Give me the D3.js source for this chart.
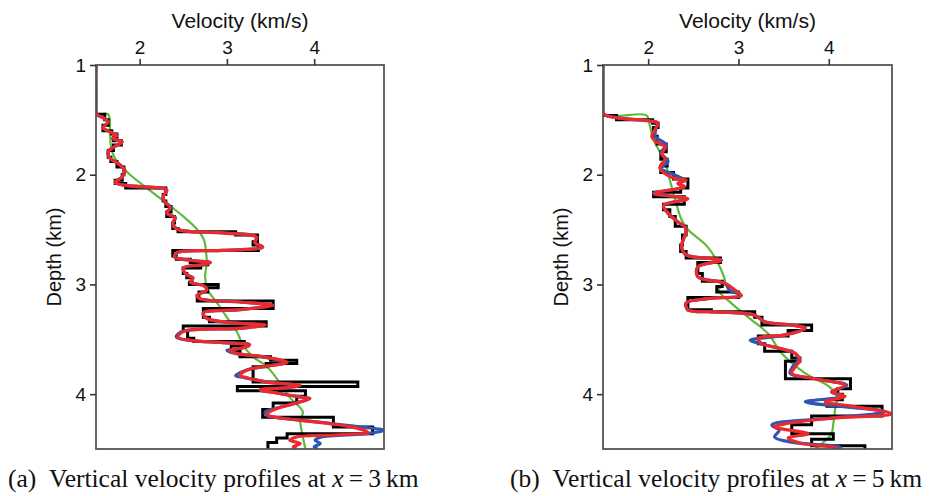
<!DOCTYPE html>
<html>
  <head>
    <meta charset="utf-8">
    <title>Vertical velocity profiles</title>
    <script src="https://cdn.jsdelivr.net/npm/d3@7"></script>
    <style>
      body { margin: 0; background: #fff; }
      .tick text, .axisTitle { font-family: "Liberation Sans", Arial, sans-serif; fill: #111; }
      .caption { font-family: "Liberation Serif", "DejaVu Serif", serif; fill: #111; }
    </style>
  </head>

  <body>
    <svg id="chart" width="932" height="496"></svg>

    <script>
      // ticks
      velocityTicks = [2, 3, 4];
      depthTicks = [1, 2, 3, 4];

      // panel (a), x = 3 km: [depth, velocity]
      // true model (blocky): layer tops
      trueA = [
        [1.00, 1.50], [1.45, 1.60], [1.50, 1.64], [1.55, 1.58], [1.60, 1.68], [1.63, 1.74],
        [1.66, 1.70], [1.69, 1.79], [1.73, 1.70], [1.78, 1.64], [1.84, 1.67], [1.88, 1.74],
        [1.93, 1.82], [2.00, 1.80], [2.05, 1.72], [2.08, 1.84], [2.12, 2.30], [2.18, 2.27],
        [2.24, 2.30], [2.29, 2.36], [2.34, 2.31], [2.38, 2.40], [2.44, 2.38], [2.49, 2.44],
        [2.52, 3.10], [2.55, 3.35], [2.61, 3.30], [2.64, 3.36], [2.69, 2.38], [2.74, 2.42],
        [2.77, 2.58], [2.80, 2.78], [2.82, 2.70], [2.85, 2.50], [2.90, 2.54], [2.94, 2.60],
        [2.98, 2.57], [3.00, 2.90], [3.03, 2.78], [3.07, 2.68], [3.10, 2.66], [3.15, 3.53],
        [3.22, 2.73], [3.30, 2.80], [3.34, 3.45], [3.38, 2.50], [3.42, 2.55], [3.49, 2.62],
        [3.52, 3.20], [3.56, 3.05], [3.61, 3.15], [3.66, 3.50], [3.69, 3.80], [3.72, 3.45],
        [3.75, 3.30], [3.89, 4.50], [3.93, 3.12], [3.97, 3.90], [4.02, 3.80], [4.08, 3.53],
        [4.14, 3.41], [4.21, 4.22], [4.30, 4.67], [4.36, 3.69], [4.40, 3.57], [4.44, 3.47],
        [4.50, 3.47]
      ];
      // initial model (smooth)
      initialA = [
        [1.00, 1.50], [1.44, 1.50], [1.45, 1.64], [1.62, 1.66], [1.78, 1.68], [1.89, 1.75],
        [2.00, 1.89], [2.12, 2.08], [2.26, 2.31], [2.38, 2.50], [2.50, 2.66], [2.60, 2.74],
        [2.70, 2.76], [2.80, 2.77], [2.93, 2.75], [3.05, 2.78], [3.17, 2.89], [3.30, 3.00],
        [3.44, 3.12], [3.55, 3.18], [3.66, 3.30], [3.75, 3.46], [3.90, 3.61], [4.03, 3.72],
        [4.16, 3.87], [4.24, 3.84], [4.35, 3.86], [4.50, 3.90]
      ];
      // inverted model, first result
      blueA = [
        [1.00, 1.50], [1.44, 1.50], [1.48, 1.58], [1.52, 1.64], [1.57, 1.58], [1.61, 1.66],
        [1.64, 1.74], [1.67, 1.69], [1.70, 1.80], [1.75, 1.70], [1.79, 1.64], [1.85, 1.66],
        [1.89, 1.74], [1.96, 1.83], [2.02, 1.80], [2.07, 1.72], [2.10, 1.86], [2.14, 2.31],
        [2.20, 2.27], [2.25, 2.29], [2.30, 2.36], [2.35, 2.31], [2.39, 2.41], [2.45, 2.38],
        [2.50, 2.44], [2.53, 2.95], [2.57, 3.34], [2.62, 3.32], [2.66, 3.41], [2.69, 2.95],
        [2.71, 2.43], [2.75, 2.40], [2.78, 2.58], [2.80, 2.81], [2.82, 2.73], [2.85, 2.50],
        [2.91, 2.54], [2.94, 2.61], [2.98, 2.58], [3.01, 2.73], [3.05, 2.77], [3.10, 2.66],
        [3.13, 2.69], [3.16, 3.15], [3.19, 3.50], [3.23, 3.15], [3.26, 2.73], [3.31, 2.77],
        [3.35, 3.07], [3.37, 3.42], [3.40, 3.15], [3.43, 2.48], [3.48, 2.42], [3.51, 2.58],
        [3.53, 2.95], [3.55, 3.26], [3.58, 3.18], [3.60, 3.00], [3.63, 3.10], [3.66, 3.41],
        [3.71, 3.67], [3.75, 3.41], [3.78, 3.23], [3.83, 3.10], [3.85, 3.20], [3.89, 3.46],
        [3.92, 3.82], [3.94, 3.69], [3.96, 3.38], [3.99, 3.57], [4.03, 3.87], [4.04, 3.95],
        [4.08, 3.80], [4.12, 3.61], [4.16, 3.44], [4.19, 3.45], [4.22, 3.64], [4.26, 4.10],
        [4.30, 4.55], [4.33, 4.80], [4.36, 4.60], [4.39, 4.08], [4.42, 4.01], [4.45, 4.07],
        [4.48, 4.00], [4.50, 4.04]
      ];
      // inverted model, second result
      redA = [
        [1.00, 1.50], [1.44, 1.50], [1.48, 1.58], [1.52, 1.64], [1.57, 1.58], [1.61, 1.66],
        [1.64, 1.74], [1.67, 1.69], [1.70, 1.80], [1.75, 1.70], [1.79, 1.64], [1.85, 1.66],
        [1.89, 1.74], [1.96, 1.83], [2.02, 1.80], [2.07, 1.72], [2.10, 1.86], [2.14, 2.31],
        [2.20, 2.27], [2.25, 2.29], [2.30, 2.35], [2.35, 2.31], [2.39, 2.40], [2.45, 2.38],
        [2.50, 2.44], [2.53, 2.95], [2.57, 3.34], [2.62, 3.32], [2.66, 3.41], [2.69, 2.95],
        [2.71, 2.43], [2.75, 2.40], [2.78, 2.58], [2.80, 2.81], [2.82, 2.73], [2.85, 2.50],
        [2.91, 2.54], [2.94, 2.61], [2.98, 2.58], [3.01, 2.73], [3.05, 2.77], [3.10, 2.66],
        [3.13, 2.69], [3.16, 3.15], [3.19, 3.53], [3.23, 3.15], [3.26, 2.73], [3.31, 2.77],
        [3.35, 3.07], [3.37, 3.44], [3.40, 3.15], [3.43, 2.50], [3.48, 2.44], [3.51, 2.58],
        [3.53, 2.95], [3.55, 3.26], [3.58, 3.18], [3.60, 3.03], [3.63, 3.12], [3.66, 3.41],
        [3.71, 3.69], [3.75, 3.41], [3.78, 3.23], [3.83, 3.15], [3.85, 3.23], [3.89, 3.46],
        [3.92, 3.84], [3.94, 3.69], [3.96, 3.38], [3.99, 3.57], [4.03, 3.87], [4.04, 3.95],
        [4.08, 3.80], [4.12, 3.61], [4.16, 3.49], [4.19, 3.46], [4.22, 3.64], [4.26, 4.10],
        [4.31, 4.49], [4.35, 4.62], [4.37, 4.29], [4.39, 3.80], [4.42, 3.72], [4.45, 3.84],
        [4.48, 3.76], [4.50, 3.80]
      ];

      // panel (b), x = 5 km
      trueB = [
        [1.00, 1.50], [1.46, 1.65], [1.50, 2.05], [1.53, 2.11], [1.57, 2.06], [1.65, 2.10],
        [1.72, 2.20], [1.79, 2.14], [1.86, 2.21], [1.92, 2.14], [1.98, 2.28], [2.04, 2.44],
        [2.12, 2.36], [2.16, 2.06], [2.20, 2.40], [2.27, 2.17], [2.32, 2.24], [2.38, 2.30],
        [2.47, 2.42], [2.55, 2.38], [2.64, 2.36], [2.70, 2.42], [2.76, 2.80], [2.80, 2.55],
        [2.90, 2.60], [2.97, 2.82], [3.02, 2.76], [3.07, 3.00], [3.12, 2.44], [3.23, 2.70],
        [3.25, 3.18], [3.30, 3.26], [3.37, 3.81], [3.42, 3.55], [3.47, 3.22], [3.54, 3.29],
        [3.61, 3.59], [3.67, 3.68], [3.70, 3.52], [3.86, 4.24], [3.95, 4.10], [4.00, 4.15],
        [4.05, 3.98], [4.11, 4.59], [4.20, 3.81], [4.28, 3.59], [4.36, 4.05], [4.41, 3.81],
        [4.47, 4.40], [4.50, 4.40]
      ];
      initialB = [
        [1.00, 1.50], [1.44, 1.50], [1.46, 1.98], [1.56, 2.02], [1.70, 2.07], [1.87, 2.18],
        [2.05, 2.24], [2.20, 2.29], [2.41, 2.37], [2.50, 2.44], [2.66, 2.66], [2.87, 2.81],
        [2.99, 2.85], [3.05, 2.78], [3.17, 2.92], [3.32, 3.14], [3.45, 3.33], [3.63, 3.48],
        [3.81, 3.74], [3.93, 4.00], [4.02, 4.09], [4.14, 4.07], [4.27, 4.05], [4.36, 4.03],
        [4.46, 3.91], [4.50, 3.85]
      ];
      blueB = [
        [1.00, 1.50], [1.44, 1.50], [1.48, 1.65], [1.51, 2.02], [1.53, 2.11], [1.57, 2.09],
        [1.65, 2.08], [1.73, 2.20], [1.80, 2.14], [1.88, 2.22], [1.94, 2.14], [2.00, 2.29],
        [2.05, 2.40], [2.08, 2.33], [2.11, 2.40], [2.17, 2.06], [2.22, 2.42], [2.28, 2.17],
        [2.35, 2.22], [2.43, 2.33], [2.49, 2.42], [2.66, 2.37], [2.73, 2.42], [2.78, 2.81],
        [2.84, 2.55], [2.93, 2.55], [2.99, 2.85], [3.05, 2.90], [3.10, 3.03], [3.13, 2.66],
        [3.17, 2.42], [3.23, 2.44], [3.25, 2.74], [3.28, 3.18], [3.34, 3.29], [3.37, 3.59],
        [3.40, 3.74], [3.46, 3.52], [3.51, 3.13], [3.54, 3.24], [3.58, 3.44], [3.63, 3.63],
        [3.69, 3.66], [3.75, 3.60], [3.81, 3.57], [3.86, 3.85], [3.92, 4.20], [3.98, 4.03],
        [4.02, 4.16], [4.07, 3.74], [4.11, 4.10], [4.16, 4.63], [4.22, 4.00], [4.28, 3.37],
        [4.33, 3.45], [4.39, 3.40], [4.44, 3.60], [4.48, 4.11], [4.50, 4.14]
      ];
      redB = [
        [1.00, 1.50], [1.44, 1.50], [1.48, 1.65], [1.51, 2.02], [1.53, 2.11], [1.57, 2.09],
        [1.65, 2.04], [1.70, 2.09], [1.75, 2.19], [1.81, 2.15], [1.85, 2.19], [1.94, 2.13],
        [2.03, 2.28], [2.05, 2.42], [2.08, 2.33], [2.11, 2.40], [2.17, 2.07], [2.22, 2.44],
        [2.28, 2.17], [2.35, 2.22], [2.43, 2.33], [2.49, 2.42], [2.66, 2.37], [2.73, 2.42],
        [2.78, 2.81], [2.84, 2.55], [2.93, 2.55], [2.99, 2.85], [3.05, 2.96], [3.10, 3.03],
        [3.13, 2.66], [3.17, 2.42], [3.23, 2.44], [3.25, 2.74], [3.28, 3.18], [3.34, 3.29],
        [3.37, 3.59], [3.40, 3.74], [3.46, 3.52], [3.49, 3.22], [3.54, 3.26], [3.58, 3.44],
        [3.63, 3.63], [3.69, 3.68], [3.75, 3.63], [3.81, 3.59], [3.86, 3.85], [3.92, 4.18],
        [3.98, 4.03], [4.02, 4.18], [4.07, 3.96], [4.11, 4.26], [4.18, 4.70], [4.22, 4.03],
        [4.27, 3.52], [4.30, 3.40], [4.36, 3.77], [4.40, 3.55], [4.45, 3.70], [4.48, 4.03],
        [4.50, 4.11]
      ];

      panels = [
        { left: 96, right: 384, vmax: 4.8, label: "a", pos: "3",
          black: trueA, green: initialA, blue: blueA, red: redA, captionX: 8 },
        { left: 603, right: 892, vmax: 4.7, label: "b", pos: "5",
          black: trueB, green: initialB, blue: blueB, red: redB, captionX: 510 }
      ];
      plotTop = 65;
      plotBottom = 449;

      svg = d3.select("#chart");

      panels.forEach(function(p, i) {
        let x = d3.scaleLinear().domain([1.5, p.vmax]).range([p.left, p.right]);
        let y = d3.scaleLinear().domain([1, 4.5]).range([plotTop, plotBottom]);
        let g = svg.append("g");

        g.append("clipPath")
          .attr("id", "clip" + i)
        .append("rect")
          .attr("x", p.left)
          .attr("y", plotTop)
          .attr("width", p.right - p.left)
          .attr("height", plotBottom - plotTop);

        let smooth = d3.line()
          .x(function(d) { return x(d[1]); })
          .y(function(d) { return y(d[0]); })
          .curve(d3.curveCatmullRom.alpha(0.5));
        let step = d3.line()
          .x(function(d) { return x(d[1]); })
          .y(function(d) { return y(d[0]); })
          .curve(d3.curveStepBefore);

        let curves = g.append("g").attr("clip-path", "url(#clip" + i + ")");
        curves.append("path").datum(p.green)
          .attr("d", smooth).attr("fill", "none")
          .attr("stroke", "#5dbb3c").attr("stroke-width", 2.2);
        curves.append("path").datum(p.black)
          .attr("d", step).attr("fill", "none")
          .attr("stroke", "#000").attr("stroke-width", 3);
        curves.append("path").datum(p.blue)
          .attr("d", smooth).attr("fill", "none")
          .attr("stroke", "#2f55b5").attr("stroke-width", 3.2);
        curves.append("path").datum(p.red)
          .attr("d", smooth).attr("fill", "none")
          .attr("stroke", "#ec2a2c").attr("stroke-width", 3.2);

        // frame
        g.append("rect")
          .attr("x", p.left)
          .attr("y", plotTop)
          .attr("width", p.right - p.left)
          .attr("height", plotBottom - plotTop)
          .attr("fill", "none")
          .attr("stroke", "#555")
          .attr("stroke-width", 1.8);

        // axes
        let xAxis = g.append("g")
          .attr("transform", "translate(0," + plotTop + ")")
          .call(d3.axisTop(x).tickValues(velocityTicks).tickSize(6).tickPadding(5).tickFormat(d3.format("d")));
        let yAxis = g.append("g")
          .attr("transform", "translate(" + p.left + ",0)")
          .call(d3.axisLeft(y).tickValues(depthTicks).tickSize(6).tickPadding(4).tickFormat(d3.format("d")));
        [xAxis, yAxis].forEach(function(a) {
          a.select(".domain").remove();
          a.selectAll(".tick line").attr("stroke", "#333").attr("stroke-width", 1.6);
          a.selectAll(".tick text").style("font-size", "19px");
        });

        g.append("text")
          .classed("axisTitle", true)
          .attr("x", (p.left + p.right) / 2)
          .attr("y", 28)
          .attr("text-anchor", "middle")
          .attr("textLength", 137)
          .attr("lengthAdjust", "spacingAndGlyphs")
          .style("font-size", "20px")
          .text("Velocity (km/s)");
        g.append("text")
          .classed("axisTitle", true)
          .attr("transform", "translate(" + (p.left - 35) + "," + (plotTop + plotBottom) / 2 + ") rotate(-90)")
          .attr("text-anchor", "middle")
          .style("font-size", "20px")
          .text("Depth (km)");

        // caption
        let cap = g.append("text")
          .classed("caption", true)
          .attr("x", p.captionX)
          .attr("y", 487)
          .style("font-size", "25.5px");
        cap.append("tspan").text("(" + p.label + ")\u2002Vertical velocity profiles at ");
        cap.append("tspan").style("font-style", "italic").text("x");
        cap.append("tspan").text("\u2009=\u2009" + p.pos + "\u2009km");
      });
    </script>
  </body>
</html>
